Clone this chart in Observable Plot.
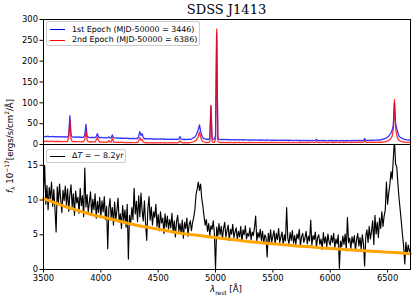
<!DOCTYPE html>
<html><head><meta charset="utf-8">
<script src="https://cdn.jsdelivr.net/npm/d3@7"></script>
<script src="https://cdn.jsdelivr.net/npm/@observablehq/plot@0.6"></script>
<style>
body{margin:0;background:#fff;}
#wrap{position:relative;width:415px;height:301px;font-family:"DejaVu Sans",sans-serif;color:#000;overflow:hidden;}
#wrap svg{display:block;}
.ov{position:absolute;white-space:nowrap;}
.leg{position:absolute;border:1px solid #cccccc;border-radius:2px;background:rgba(255,255,255,0.8);}
.leg .ln{position:absolute;height:0;}
.leg .tx{position:absolute;font-size:7.9px;line-height:10px;white-space:nowrap;}
</style></head><body><div id="wrap"></div>
<script>
// Wavelength grid [Å]
const wavelengthStart = 3500, wavelengthStep = 10;

// 1st epoch (MJD-50000 = 3446)
const blueFlux = [
19.2,18.4,19.6,18.8,19.9,18.3,19.1,18.7,19.5,18.6,
18.9,18.1,19.0,18.4,18.8,17.9,18.6,18.2,18.9,18.0,
18.4,17.8,22.0,69.0,23.0,18.1,17.6,18.3,17.4,18.0,
17.5,18.1,17.2,17.8,17.0,17.6,22.0,48.0,20.5,17.3,
17.1,16.6,17.3,16.8,17.0,16.4,19.5,26.0,18.2,16.7,
16.9,16.3,16.7,16.0,16.5,15.8,16.4,18.0,15.9,16.2,
23.0,16.4,15.7,16.1,15.4,15.9,15.2,15.7,15.0,15.5,
14.8,15.3,14.6,15.0,14.4,14.9,14.2,14.7,14.1,14.6,
14.0,14.5,14.2,20.0,31.0,22.0,26.0,16.5,14.3,13.8,
14.2,13.6,14.0,13.4,13.9,13.2,13.7,13.1,13.6,13.0,
13.5,12.9,13.3,12.7,13.2,12.6,13.0,12.5,12.9,12.4,
12.8,12.3,12.9,12.2,12.7,12.1,12.6,12.0,13.0,19.0,
13.2,12.4,12.0,12.6,11.9,12.5,12.1,12.8,12.3,13.1,
15.0,16.5,18.0,22.0,28.0,36.0,47.0,32.0,22.0,16.0,
14.0,13.2,12.6,12.9,12.2,14.0,92.0,14.0,12.5,13.0,
20.0,268.0,16.0,12.3,11.8,12.4,11.7,12.2,11.6,12.1,
11.5,12.0,11.3,11.9,11.2,11.8,11.1,11.7,11.0,11.6,
11.1,11.6,10.9,11.5,10.8,11.4,10.9,11.3,10.7,11.2,
10.6,11.2,10.5,11.0,10.4,11.1,10.5,10.9,10.3,10.8,
10.2,10.9,10.4,10.7,10.1,10.8,10.3,10.6,10.0,10.7,
10.2,10.6,9.9,10.5,10.1,10.4,9.8,10.3,9.9,10.5,
9.8,10.4,9.7,10.2,9.6,10.3,9.8,10.1,9.5,10.0,
9.7,10.2,9.4,10.0,9.6,10.1,9.3,9.9,9.5,10.0,
9.4,9.9,9.2,9.8,9.5,9.7,9.1,9.8,12.5,9.6,
9.3,9.8,9.1,9.6,9.0,9.7,9.2,9.5,8.9,9.6,
9.2,9.7,9.0,9.5,8.9,9.6,9.1,9.4,8.8,9.5,
9.1,9.6,8.9,9.4,9.0,9.7,9.2,9.5,8.9,9.6,
9.3,9.8,9.1,9.6,9.2,9.9,9.4,9.7,9.3,10.0,
14.0,10.2,9.6,10.1,9.7,10.3,9.8,10.4,10.0,10.6,
10.3,10.9,10.5,11.2,10.8,12.8,12.0,13.5,14.5,15.5,
18.0,20.0,24.0,28.0,35.0,45.0,100.0,50.0,38.0,28.0,
20.0,17.0,16.0,14.0,13.0,12.0,11.5,11.0,10.7,11.2,
10.8];

// 2nd epoch (MJD-50000 = 6386)
const redFlux = [
7.8,7.2,8.0,7.4,7.9,7.1,7.7,7.3,7.9,7.0,
7.6,7.1,7.8,7.2,7.5,6.9,7.6,7.0,7.4,6.8,
7.3,6.9,18.0,57.0,14.0,7.0,6.8,7.2,6.6,7.0,
6.7,7.1,6.5,6.9,6.4,6.8,12.0,34.0,11.0,6.5,
6.4,6.0,6.6,6.1,6.3,5.9,11.0,18.0,9.0,6.0,
6.2,5.7,6.0,5.5,5.9,5.4,5.8,10.0,5.5,5.8,
16.0,6.0,5.3,5.7,5.1,5.5,5.0,5.4,4.9,5.3,
4.8,5.2,4.6,5.0,4.5,4.9,4.4,4.8,4.3,4.7,
4.4,4.8,4.5,9.0,17.0,10.0,12.0,6.0,4.5,4.2,
4.6,4.1,4.5,4.0,4.4,3.9,4.3,3.8,4.2,3.9,
4.3,3.8,4.2,3.7,4.1,3.8,4.2,3.7,4.1,3.9,
4.2,3.8,4.3,3.9,4.2,3.7,4.1,3.8,5.0,9.0,
5.5,4.2,3.9,4.4,4.0,4.5,4.1,4.6,4.3,5.0,
6.0,7.0,8.0,10.0,14.0,20.0,30.0,18.0,11.0,7.0,
6.0,5.2,4.8,5.1,4.7,7.0,94.0,7.0,4.9,5.3,
12.0,277.0,8.0,5.2,4.6,5.0,4.5,4.9,4.4,4.8,
4.5,4.9,4.3,4.8,4.4,4.7,4.2,4.8,4.4,4.9,
4.5,4.9,4.3,4.7,4.4,4.8,4.2,4.7,4.5,4.9,
4.4,4.8,4.3,4.9,4.5,4.7,4.3,4.8,4.4,4.9,
4.5,4.9,4.4,4.8,4.3,4.9,4.6,4.8,4.4,5.0,
4.6,5.0,4.4,4.9,4.5,5.1,4.6,4.9,4.5,5.0,
4.6,5.1,4.5,4.9,4.7,5.2,4.6,5.0,4.5,5.1,
4.7,5.2,4.6,5.0,4.8,5.3,4.7,5.1,4.6,5.2,
4.8,5.2,4.7,5.1,4.9,5.3,4.7,5.2,7.0,5.1,
4.8,5.3,4.7,5.1,4.9,5.4,4.8,5.2,4.7,5.3,
4.9,5.4,4.8,5.2,4.7,5.5,4.9,5.3,4.8,5.4,
5.0,5.4,4.8,5.3,4.9,5.5,5.0,5.3,4.8,5.4,
5.1,5.5,4.9,5.4,5.0,5.6,5.1,5.4,4.9,5.5,
9.0,5.6,5.0,5.5,5.1,5.7,5.2,5.5,5.0,5.6,
5.2,5.7,5.1,5.6,5.3,6.0,5.7,6.3,6.8,7.2,
8.5,9.5,12.0,15.0,20.0,35.0,108.0,40.0,22.0,14.0,
10.0,8.5,7.5,6.5,6.0,5.5,5.2,5.0,4.8,5.1,
4.9];

// Difference spectrum (ΔT = ~8.2 yr)
const diffFlux = [
11.2,15.0,9.4,12.1,8.6,11.8,10.2,12.6,9.1,11.5,
8.7,5.4,11.9,9.6,12.3,10.1,8.2,11.4,9.9,12.0,
9.3,11.6,8.4,10.8,12.2,9.0,10.9,7.8,11.3,9.6,
10.4,8.1,11.7,9.2,10.6,7.6,14.6,9.0,10.8,8.3,
9.7,11.2,7.9,10.1,8.6,10.9,7.4,9.8,8.2,10.4,
7.6,9.9,8.3,10.5,7.2,9.1,3.0,8.8,10.2,7.5,
8.9,6.4,9.7,7.1,8.5,10.3,6.8,8.0,5.9,9.2,
7.0,8.6,6.1,9.4,1.5,7.8,6.5,8.9,7.2,11.7,
8.0,9.8,6.9,10.6,7.6,11.0,8.4,7.0,9.9,6.6,
4.2,8.7,10.5,7.1,9.0,6.4,8.3,7.5,9.4,6.2,
7.9,5.6,8.3,6.7,7.4,5.2,8.0,6.1,7.7,5.8,
7.2,6.0,8.1,5.3,7.0,4.7,6.9,7.8,5.5,6.6,
5.2,7.1,4.5,6.8,5.9,7.4,4.8,6.5,7.0,5.6,
6.8,7.5,8.6,10.8,11.6,12.6,11.4,12.3,10.2,9.1,
7.6,6.4,7.2,5.5,6.6,4.9,6.3,5.8,7.0,5.2,
0.1,6.1,4.8,6.6,5.0,6.2,4.4,5.9,6.8,4.7,
5.6,6.4,4.2,5.8,5.1,6.5,4.6,5.4,6.0,4.3,
5.5,4.7,6.2,4.0,5.7,5.0,6.3,4.4,5.2,4.8,
6.0,4.3,5.4,4.9,6.1,7.7,4.1,5.3,4.6,5.8,
4.2,5.5,3.7,5.0,4.6,1.8,5.2,4.0,5.7,3.9,
4.8,5.6,3.6,5.2,4.3,5.9,3.9,4.7,5.4,3.5,
5.0,4.1,8.9,4.5,3.7,5.3,4.2,5.6,3.8,4.9,
3.6,5.1,4.4,5.8,3.4,4.7,5.2,3.9,4.6,5.5,
3.7,4.8,4.1,7.1,3.5,4.9,4.3,5.4,3.2,4.6,
5.0,3.6,4.4,2.9,5.3,3.8,4.7,3.3,5.1,4.0,
3.5,4.9,3.9,5.2,3.1,4.4,3.7,5.0,0.2,4.1,
3.3,4.8,3.6,5.1,2.8,7.5,3.9,4.5,3.0,4.7,
3.8,4.9,2.7,4.3,5.2,3.4,4.6,2.9,5.0,3.7,
0.5,4.8,5.7,3.9,6.2,4.4,5.5,7.0,3.6,7.8,
5.1,6.8,4.6,7.4,5.9,8.3,6.2,7.7,8.6,12.6,
9.4,11.0,12.2,14.1,13.0,15.9,18.6,15.2,14.8,12.4,
10.3,8.6,6.9,5.0,3.4,0.8,3.9,2.2,3.5,2.6,
3.0];

// Power-law continuum fit (orange), read every 100 Å
const fitWavelength = [3500,3600,3700,3800,3900,4000,4100,4200,4300,4400,4500,4600,4700,4800,4900,5000,5100,5200,5300,5400,5500,5600,5700,5800,5900,6000,6100,6200,6300,6400,6500,6600,6700];
const fitFlux = [10.2,9.6,9.0,8.5,8.0,7.6,7.2,6.8,6.4,6.1,5.8,5.5,5.2,5.0,4.8,4.6,4.4,4.2,4.0,3.85,3.7,3.55,3.4,3.3,3.15,3.03,2.92,2.8,2.7,2.6,2.5,2.4,2.25];

const xTicks = [3500,4000,4500,5000,5500,6000,6500];
const yTopTicks = [0,50,100,150,200,250,300];
const yBottomTicks = [0,5,10,15];

const data = blueFlux.map((b,i)=>({w: wavelengthStart + i*wavelengthStep, blue: b, red: redFlux[i], diff: diffFlux[i]}));
const fit = fitWavelength.map((w,i)=>({w, f: fitFlux[i]}));

const common = {
  width: 415, marginLeft: 43, marginRight: 5,
  style: {fontFamily: "DejaVu Sans", fontSize: "8.4px", color: "black", background: "white", overflow: "visible"}
};

const topPlot = Plot.plot({
  ...common, height: 144, marginTop: 19, marginBottom: 0,
  x: {domain: [3500, 6700], axis: null},
  y: {domain: [0, 300], axis: null},
  marks: [
    Plot.line(data, {x: "w", y: "blue", stroke: "#0000ff", strokeWidth: 1.3, strokeOpacity: 0.8}),
    Plot.line(data, {x: "w", y: "red", stroke: "#ff0000", strokeWidth: 1.3, strokeOpacity: 0.8}),
    Plot.axisY({ticks: yTopTicks, tickSize: 3.5, tickPadding: 2, label: null, tickFormat: d => String(d)}),
    Plot.frame({stroke: "black"})
  ]
});

const bottomPlot = Plot.plot({
  ...common, height: 157, marginTop: 0, marginBottom: 32,
  x: {domain: [3500, 6700], axis: null},
  y: {domain: [0, 18], axis: null},
  marks: [
    Plot.line(data, {x: "w", y: "diff", stroke: "black", strokeWidth: 1.15, clip: true}),
    Plot.line(fit, {x: "w", y: "f", stroke: "orange", strokeWidth: 3, curve: "natural"}),
    Plot.axisY({ticks: yBottomTicks, tickSize: 3.5, tickPadding: 2, label: null, tickFormat: d => String(d)}),
    Plot.axisX({ticks: xTicks, tickSize: 3.5, tickPadding: 2, label: null, tickFormat: d => String(d)}),
    Plot.frame({stroke: "black"})
  ]
});

const wrap = document.getElementById("wrap");
wrap.appendChild(topPlot);
wrap.appendChild(bottomPlot);

function ov(html, css) {
  const d = document.createElement("div");
  d.className = "ov";
  d.innerHTML = html;
  Object.assign(d.style, css);
  wrap.appendChild(d);
  return d;
}

// Title
ov("SDSS J1413", {left: "43px", width: "367px", textAlign: "center", top: "2px", fontFamily: "'DejaVu Serif', serif", fontSize: "13px", lineHeight: "16px"});

// Y label
ov('<i>f</i><sub style="font-size:6px">λ</sub> 10<sup style="font-size:6px">−17</sup>[ergs/s/cm<sup style="font-size:6px">2</sup>/Å]',
  {left: "10px", top: "146px", transform: "translate(-50%,-50%) rotate(-90deg)", fontSize: "8.6px", lineHeight: "10px"});

// X label
ov('<i>λ</i><sub style="font-size:6px">rest</sub> [Å]', {left: "226px", top: "291px", transform: "translate(-50%,-50%)", fontSize: "8.6px", lineHeight: "10px"});

// Top legend
const leg1 = document.createElement("div");
leg1.className = "leg";
Object.assign(leg1.style, {left: "46px", top: "21px", width: "152px", height: "23px"});
leg1.innerHTML =
  '<div class="ln" style="left:3px;top:7px;width:15px;border-top:1px solid #0000ff"></div>' +
  '<div class="tx" style="left:25px;top:2.5px">1st Epoch (MJD-50000 = 3446)</div>' +
  '<div class="ln" style="left:3px;top:18px;width:15px;border-top:1px solid #ff0000"></div>' +
  '<div class="tx" style="left:25px;top:13px">2nd Epoch (MJD-50000 = 6386)</div>';
wrap.appendChild(leg1);

// Bottom legend
const leg2 = document.createElement("div");
leg2.className = "leg";
Object.assign(leg2.style, {left: "46px", top: "149px", width: "78px", height: "12px"});
leg2.innerHTML =
  '<div class="ln" style="left:3px;top:6px;width:15px;border-top:1px solid #000"></div>' +
  '<div class="tx" style="left:25px;top:1px">Δ<i>T</i> = ∼ 8.2yr</div>';
wrap.appendChild(leg2);
</script></body></html>
